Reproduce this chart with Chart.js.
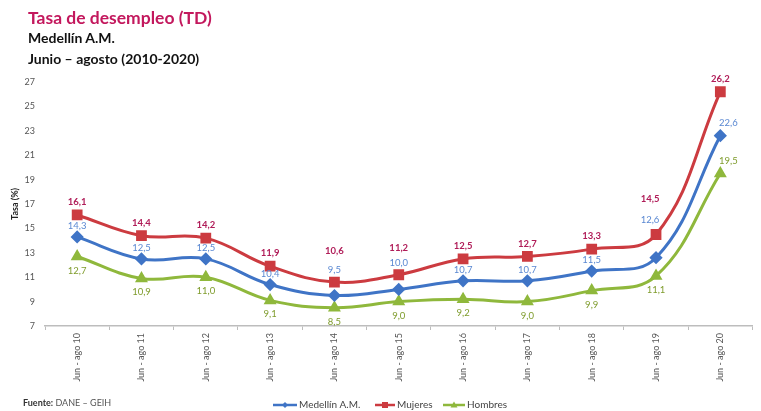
<!DOCTYPE html>
<html>
<head>
<meta charset="utf-8">
<script src="https://cdn.jsdelivr.net/npm/chart.js@4.4.1/dist/chart.umd.min.js"></script>
<style>
  html, body { margin: 0; padding: 0; background: #fff; overflow: hidden; }
  #wrap { position: relative; width: 761px; height: 411px; }
  #chart { position: absolute; left: 0; top: 0; }
  .t { position: absolute; left: 28px; font-family: Lato, "Open Sans", sans-serif; font-weight: bold; white-space: nowrap; }
  #t1 { top: 7px; font-size: 17.5px; color: #c3185d; }
  #t2 { top: 29px; font-size: 14px; color: #111; }
  #t3 { top: 50px; font-size: 14px; color: #111; }
  #src { position: absolute; left: 23px; top: 397px; font-family: Lato, sans-serif; font-size: 9px; color: #555; }
  #src b { color: #333; }
</style>
</head>
<body>
<div id="wrap">
  <canvas id="chart" width="761" height="411"></canvas>
  <div class="t" id="t1">Tasa de desempleo (TD)</div>
  <div class="t" id="t2">Medellín A.M.</div>
  <div class="t" id="t3">Junio – agosto (2010-2020)</div>
  <div id="src"><b>Fuente:</b> DANE – GEIH</div>
</div>
<script>
var periodos = ['Jun - ago 10', 'Jun - ago 11', 'Jun - ago 12', 'Jun - ago 13', 'Jun - ago 14',
  'Jun - ago 15', 'Jun - ago 16', 'Jun - ago 17', 'Jun - ago 18', 'Jun - ago 19', 'Jun - ago 20'];
var medellin = [14.3, 12.5, 12.5, 10.4, 9.5, 10.0, 10.7, 10.7, 11.5, 12.6, 22.6];
var mujeres = [16.1, 14.4, 14.2, 11.9, 10.6, 11.2, 12.5, 12.7, 13.3, 14.5, 26.2];
var hombres = [12.7, 10.9, 11.0, 9.1, 8.5, 9.0, 9.2, 9.0, 9.9, 11.1, 19.5];
var yTicks = [7, 9, 11, 13, 15, 17, 19, 21, 23, 25, 27];

var BLUE = '#3f74c6', RED = '#cc3b40', GREEN = '#8fb83c';

// label colour / default offset per dataset (medellin, mujeres, hombres)
var labelStyle = [
  { color: '#5a88d2', bold: false, dy: -11 },
  { color: '#b01c58', bold: true, dy: -13 },
  { color: '#7f9c2c', bold: false, dy: 14 }
];
// a few labels are moved out of the way, as in the original
var labelMoves = {
  '0-4': [0, -26], '0-5': [0, -26], '0-9': [-6, -38], '0-10': [8, -13],
  '1-4': [0, -31], '1-5': [0, -27], '1-9': [-6, -36],
  '2-10': [8, -13]
};

function fmt(v) { return v.toFixed(1).replace('.', ','); }

var labelsPlugin = {
  id: 'valueLabels',
  afterDatasetsDraw: function(chart) {
    var ctx = chart.ctx;
    ctx.save();
    ctx.textAlign = 'center';
    ctx.textBaseline = 'middle';
    chart.data.datasets.forEach(function(ds, i) {
      var st = labelStyle[i];
      ctx.fillStyle = st.color;
      ctx.font = (st.bold ? 'bold ' : '') + '9.5px Lato, sans-serif';
      chart.getDatasetMeta(i).data.forEach(function(pt, j) {
        var mv = labelMoves[i + '-' + j] || [0, st.dy];
        ctx.fillText(fmt(ds.data[j]), pt.x + mv[0], pt.y + mv[1]);
      });
    });
    ctx.restore();
  }
};

var legendPlugin = {
  id: 'lineLegend',
  afterDraw: function(chart) {
    var ctx = chart.ctx;
    var items = [
      { text: 'Medellín A.M.', color: BLUE, x: 273, w: 24, shape: 'diamond' },
      { text: 'Mujeres', color: RED, x: 375, w: 20, shape: 'square' },
      { text: 'Hombres', color: GREEN, x: 443, w: 22, shape: 'triangle' }
    ];
    var y = 405;
    ctx.save();
    ctx.font = '10px Lato, sans-serif';
    ctx.textBaseline = 'middle';
    items.forEach(function(it) {
      ctx.strokeStyle = it.color;
      ctx.fillStyle = it.color;
      ctx.lineWidth = 2.5;
      ctx.beginPath();
      ctx.moveTo(it.x, y);
      ctx.lineTo(it.x + it.w, y);
      ctx.stroke();
      var cx = it.x + it.w / 2;
      ctx.beginPath();
      if (it.shape === 'diamond') {
        ctx.moveTo(cx, y - 3); ctx.lineTo(cx + 3, y); ctx.lineTo(cx, y + 3); ctx.lineTo(cx - 3, y);
      } else if (it.shape === 'square') {
        ctx.rect(cx - 3, y - 3, 6, 6);
      } else {
        ctx.moveTo(cx, y - 3.5); ctx.lineTo(cx + 3.5, y + 2.5); ctx.lineTo(cx - 3.5, y + 2.5);
      }
      ctx.closePath();
      ctx.fill();
      ctx.fillStyle = '#444';
      ctx.fillText(it.text, it.x + it.w + 2, y);
    });
    ctx.restore();
  }
};

var ctx = document.getElementById('chart').getContext('2d');
var chart = new Chart(ctx, {
  type: 'line',
  data: {
    labels: periodos,
    datasets: [
      { label: 'Medellín A.M.', data: medellin, borderColor: BLUE, backgroundColor: BLUE,
        pointStyle: 'rectRot', pointRadius: 4.5, borderWidth: 3 },
      { label: 'Mujeres', data: mujeres, borderColor: RED, backgroundColor: RED,
        pointStyle: 'rect', pointRadius: 5.5, borderWidth: 3 },
      { label: 'Hombres', data: hombres, borderColor: GREEN, backgroundColor: GREEN,
        pointStyle: 'triangle', pointRadius: 4.5, borderWidth: 3 }
    ]
  },
  options: {
    responsive: false,
    animation: false,
    layout: { padding: { top: 82, left: 0, right: -12, bottom: 19 } },
    elements: { line: { tension: 0.4 }, point: { borderWidth: 0 } },
    plugins: {
      legend: { display: false },
      tooltip: { enabled: false }
    },
    scales: {
      x: {
        offset: true,
        grid: { offset: true, drawOnChartArea: false, tickLength: 4, color: '#bdbdbd' },
        border: { color: '#bdbdbd', width: 1.5 },
        ticks: { color: '#555', font: { family: 'Lato', size: 9 }, maxRotation: 90, minRotation: 90, padding: 3 },
        afterFit: function(s) { s.height = 66; }
      },
      y: {
        min: 7, max: 27,
        afterBuildTicks: function(s) { s.ticks = yTicks.map(function(v) { return { value: v }; }); },
        grid: { display: false, drawTicks: false },
        border: { display: false },
        ticks: { color: '#555', font: { family: 'Lato', size: 9 }, padding: 10 },
        title: { display: true, text: 'Tasa (%)', color: '#222', font: { family: 'Lato', size: 9, weight: 'bold' }, padding: { top: 10, bottom: 0 } },
        afterFit: function(s) { s.width = 45; }
      }
    }
  },
  plugins: [labelsPlugin, legendPlugin]
});
</script>
</body>
</html>
